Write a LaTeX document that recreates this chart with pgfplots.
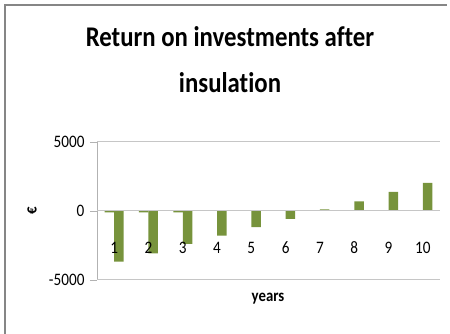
\documentclass[border=0pt]{standalone}
\usepackage{pgfplots}
\pgfplotsset{compat=1.18}
\usepackage{fontspec}
\setmainfont{Carlito}[FakeStretch=0.87, Ligatures=NoCommon]
\definecolor{bargreen}{RGB}{119,147,60}
\definecolor{framegray}{RGB}{134,134,134}
\begin{document}
\begin{tikzpicture}[x=1pt,y=1pt]
\path[use as bounding box] (0,0) rectangle (450,334);
\draw[framegray, line width=1.5pt] (5,0) -- (5,329) -- (447,329);
\node[anchor=base, font=\bfseries\fontsize{28.5}{32}\selectfont] at (230,287) {Return on investments af\kern0pt ter};
\node[anchor=base, font=\bfseries\fontsize{28.5}{32}\selectfont] at (230,241) {insulat\kern0pt ion};
\node[rotate=90, font=\bfseries\fontsize{17}{20}\selectfont] at (32,123) {€};
\node[anchor=base, font=\bfseries\fontsize{17}{20}\selectfont] at (268,32) {years};
\begin{axis}[
  at={(97pt,54pt)}, anchor=south west,
  scale only axis, width=343pt, height=138pt,
  xmin=0.5, xmax=10.5, ymin=-5000, ymax=5000,
  ytick={-5000,0,5000}, xtick={1,2,3,4,5,6,7,8,9,10},
  axis line style={draw=none},
  axis on top,
  ymajorgrids, grid style={gray!45, line width=1pt},
  ybar=0pt, bar width=9.5pt,
  tick align=outside, ytick pos=left, xtick pos=left,
  major tick length=7pt,
  x tick style={draw=none},
  y tick style={gray!60, line width=0.8pt},
  /pgf/number format/1000 sep={},
  /pgf/number format/assume math mode=true,
  tick label style={font=\fontsize{17.5}{20}\selectfont},
  xticklabel style={anchor=center, yshift=39pt},
  yticklabel style={xshift=-2pt},
]
\addplot[fill=bargreen, draw=none] coordinates {(1,-100) (2,-100) (3,-100) (4,0) (5,0) (6,0) (7,0) (8,0) (9,0) (10,0)};
\addplot[fill=bargreen, draw=none] coordinates {(1,-3670) (2,-3070) (3,-2390) (4,-1790) (5,-1160) (6,-580) (7,120) (8,700) (9,1380) (10,2030)};
\draw[gray!60, line width=1pt] (axis cs:0.5,-5000) -- (axis cs:0.5,5000);
\draw[gray, line width=1pt] (axis cs:0.5,0) -- (axis cs:10.5,0);
\draw[gray, line width=1pt] (axis cs:0.5,-5000) -- (axis cs:10.5,-5000);
\end{axis}
\end{tikzpicture}
\end{document}
